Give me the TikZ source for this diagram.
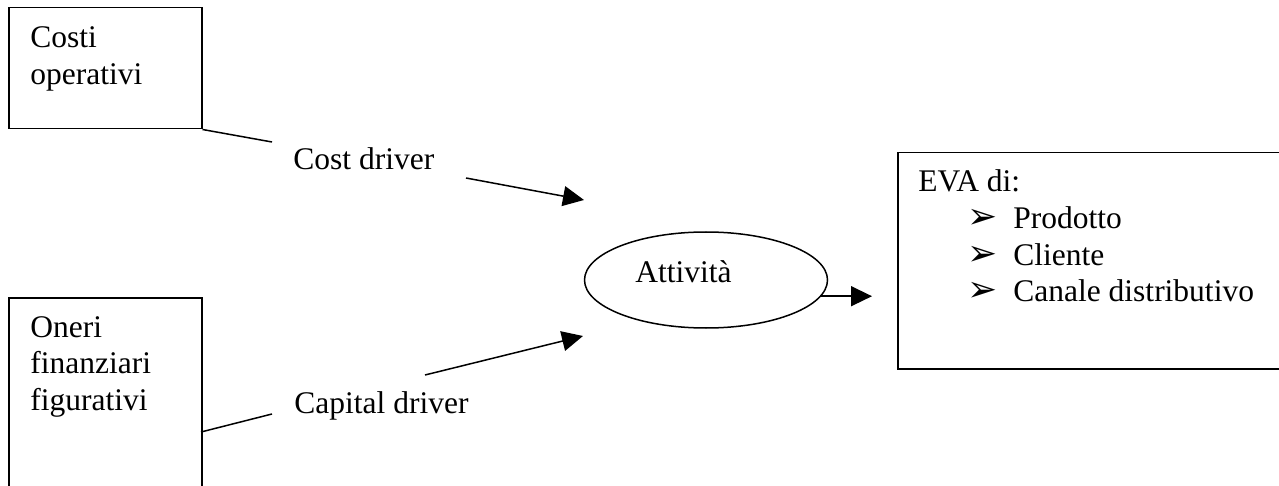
\documentclass[tikz,border=0pt]{standalone}
\usepackage{fontspec}
\setmainfont{Liberation Serif}
\newfontfamily\dingfont{DejaVu Sans}
\usetikzlibrary{arrows.meta,shapes.geometric}
\newcommand{\bulmark}{{\dingfont\fontsize{18}{18}\selectfont ➢}}
\begin{document}
\begin{tikzpicture}[x=0.5pt,y=-0.5pt,
  box/.style={draw, line width=0.75pt, anchor=north west, inner sep=0pt},
  txt/.style={inner sep=0pt, anchor=base west, font=\fontsize{15.75}{18.3}\selectfont},
  conn/.style={line width=0.75pt},
  arr/.style={line width=0.75pt, -{Triangle[length=10.5pt,width=10pt]}}]
\useasboundingbox (0,0) rectangle (1279,486);
\clip (0,0) rectangle (1279,486);
% boxes
\node[box, minimum width=96.5pt, minimum height=60.5pt] (co) at (8,7) {};
\node[box, minimum width=96.5pt, minimum height=115pt] (on) at (8,297) {};
\node[box, minimum width=205pt, minimum height=108pt] (eva) at (897,152) {};
\node[draw, ellipse, line width=0.75pt, minimum width=121.5pt, minimum height=48pt, inner sep=0pt] (act) at (706,280) {};
% texts
\node[txt] (tco) at (30,48) {\parbox[t]{90pt}{Costi\\operativi}};
\node[txt] (ton) at (30,337) {\parbox[t]{90pt}{Oneri\\finanziari\\figurativi}};
\node[txt] (cd) at (293,170) {Cost driver};
\node[txt] (kd) at (294,413) {Capital driver};
\node[txt] (tact) at (635,283) {Attività};
\node[txt] (teva) at (918,192) {\parbox[t]{180pt}{EVA di:\\
  \hspace*{24.5pt}\makebox[23pt][l]{\bulmark}Prodotto\\
  \hspace*{24.5pt}\makebox[23pt][l]{\bulmark}Cliente\\
  \hspace*{24.5pt}\makebox[23pt][l]{\bulmark}Canale distributivo}};
% connectors
\coordinate (c1) at (272,142);
\draw[conn] (co.south east) -- (c1);
\coordinate (c2s) at (201,432);
\coordinate (c2) at (272,414);
\draw[conn] (c2s) -- (c2);
\coordinate (a1s) at (466,178);
\coordinate (a1e) at (584,200);
\draw[arr] (a1s) -- (a1e);
\coordinate (a2s) at (425,375);
\coordinate (a2e) at (583,336);
\draw[arr] (a2s) -- (a2e);
\coordinate (a3s) at (act.-8.6);
\coordinate (a3x) at (872,297);
\draw[arr] (a3s) -- (a3s -| a3x);
\end{tikzpicture}
\end{document}
